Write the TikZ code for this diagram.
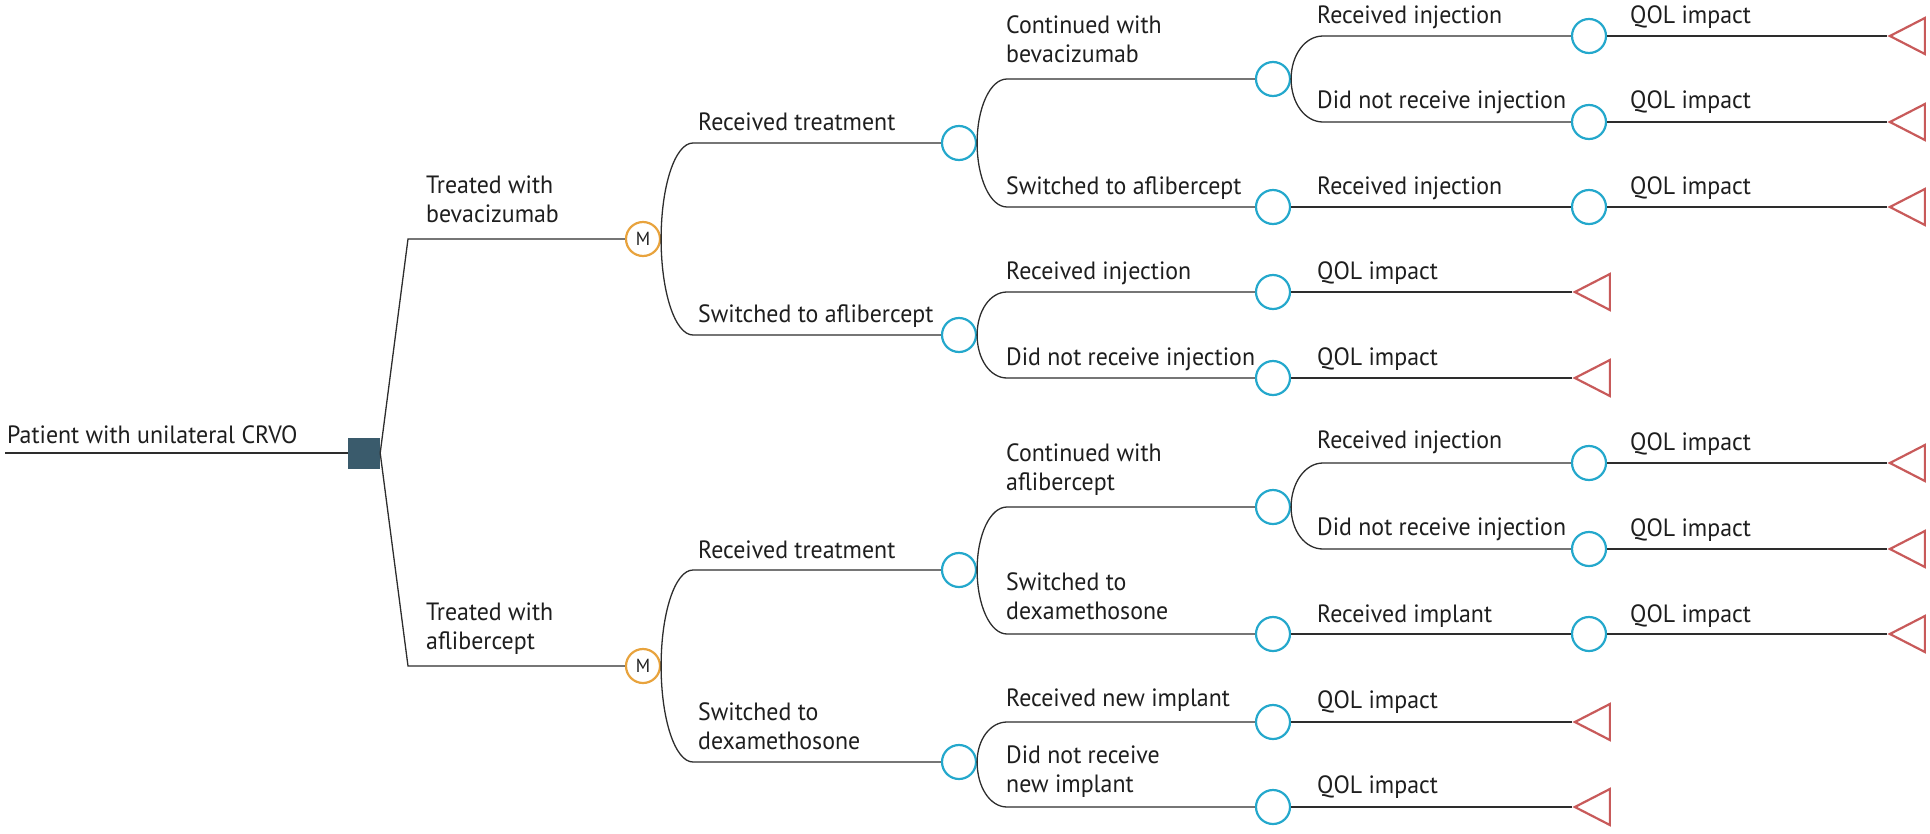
\documentclass[tikz,border=0pt]{standalone}
\usepackage{fontspec}
\setmainfont{PT Sans}[FakeStretch=0.955]
\usetikzlibrary{shapes.geometric}
\definecolor{lnc}{RGB}{45,45,45}
\definecolor{slate}{RGB}{58,91,108}
\definecolor{orng}{RGB}{232,163,61}
\definecolor{cyn}{RGB}{36,168,204}
\definecolor{rd}{RGB}{200,90,90}
\definecolor{txt}{RGB}{30,30,30}
\begin{document}
\begin{tikzpicture}[x=1pt,y=-1pt,
  ln/.style={draw=lnc,line width=1.3pt},
  lbl/.style={anchor=base west,inner sep=0pt,text=txt,font=\fontsize{25}{29.5}\selectfont},
  lbltwo/.style={anchor=south west,inner sep=0pt,text depth=0pt,text=txt,align=left,font=\fontsize{25}{29.5}\selectfont},
  decision/.style={rectangle,fill=slate,minimum width=32pt,minimum height=31pt,inner sep=0pt},
  markov/.style={circle,draw=orng,line width=2.2pt,minimum size=34pt,inner sep=0pt,text=txt,font=\fontsize{19}{20}\selectfont},
  chance/.style={circle,draw=cyn,line width=2.2pt,minimum size=34pt,inner sep=0pt},
  term/.style={isosceles triangle,isosceles triangle stretches,shape border rotate=180,draw=rd,line width=2.2pt,minimum width=36pt,minimum height=35pt,inner sep=0pt,anchor=apex}]
\useasboundingbox (0,0) rectangle (1930,833);

% ---------- root ----------
\coordinate (start) at (5,453);
\node[decision] (root) at (364,453) {};
\node[lbl] (tRoot) at (7,443) {Patient with unilateral CRVO};
\draw[ln] (start) -- (root.west);

\coordinate (k1) at (408,239);
\coordinate (k2) at (408,666);
\node[markov] (M1) at (643,239) {M};
\node[markov] (M2) at (643,666) {M};
\draw[ln] (root.east) -- (k1) -- (M1.west);
\draw[ln] (root.east) -- (k2) -- (M2.west);
\node[lbltwo] (tM1) at (426,223) {Treated with\\bevacizumab};
\node[lbltwo] (tM2) at (426,650) {Treated with\\aflibercept};

% ---------- top (bevacizumab) ----------
\node[chance] (C1) at (959,143) {};
\node[chance] (C2) at (959,335) {};
\coordinate (a1) at (693,143);
\coordinate (a2) at (693,335);
\draw[ln] (M1.east) .. controls +(0,-53) and +(-18,0) .. (a1) -- (C1.west);
\draw[ln] (M1.east) .. controls +(0,53) and +(-18,0) .. (a2) -- (C2.west);
\node[lbl] at (698,130) {Received treatment};
\node[lbl] at (698,322) {Switched to aflibercept};

\node[chance] (C3) at (1273,79) {};
\node[chance] (C4) at (1273,207) {};
\coordinate (b1) at (1007,79);
\coordinate (b2) at (1007,207);
\draw[ln] (C1.east) .. controls +(0,-35) and +(-17,0) .. (b1) -- (C3.west);
\draw[ln] (C1.east) .. controls +(0,35) and +(-17,0) .. (b2) -- (C4.west);
\node[lbltwo] at (1006,63) {Continued with\\bevacizumab};
\node[lbl] at (1006,194) {Switched to aflibercept};

\node[chance] (C5) at (1589,36) {};
\node[chance] (C6) at (1589,122) {};
\node[chance] (C7) at (1589,207) {};
\coordinate (c1) at (1323,36);
\coordinate (c2) at (1323,122);
\draw[ln] (C3.east) .. controls +(0,-24) and +(-18,0) .. (c1) -- (C5.west);
\draw[ln] (C3.east) .. controls +(0,24) and +(-18,0) .. (c2) -- (C6.west);
\draw[ln] (C4.east) -- (C7.west);
\node[lbl] at (1317,23) {Received injection};
\node[lbl] at (1317,108) {Did not receive injection};
\node[lbl] at (1317,194) {Received injection};

\node[term] (T1) at (1887,36) {};
\node[term] (T2) at (1887,122) {};
\node[term] (T3) at (1887,207) {};
\draw[ln] (C5.east) -- (T1.apex);
\draw[ln] (C6.east) -- (T2.apex);
\draw[ln] (C7.east) -- (T3.apex);
\node[lbl] at (1630,23) {QOL impact};
\node[lbl] at (1630,108) {QOL impact};
\node[lbl] at (1630,194) {QOL impact};

\node[chance] (C8) at (1273,292) {};
\node[chance] (C9) at (1273,378) {};
\coordinate (d1) at (1007,292);
\coordinate (d2) at (1007,378);
\draw[ln] (C2.east) .. controls +(0,-24) and +(-17,0) .. (d1) -- (C8.west);
\draw[ln] (C2.east) .. controls +(0,24) and +(-17,0) .. (d2) -- (C9.west);
\node[lbl] at (1006,279) {Received injection};
\node[lbl] at (1006,365) {Did not receive injection};
\node[term] (T4) at (1572,292) {};
\node[term] (T5) at (1572,378) {};
\draw[ln] (C8.east) -- (T4.apex);
\draw[ln] (C9.east) -- (T5.apex);
\node[lbl] at (1317,279) {QOL impact};
\node[lbl] at (1317,365) {QOL impact};

% ---------- bottom (aflibercept) ----------
\node[chance] (D1) at (959,570) {};
\node[chance] (D2) at (959,762) {};
\coordinate (e1) at (693,570);
\coordinate (e2) at (693,762);
\draw[ln] (M2.east) .. controls +(0,-53) and +(-18,0) .. (e1) -- (D1.west);
\draw[ln] (M2.east) .. controls +(0,53) and +(-18,0) .. (e2) -- (D2.west);
\node[lbl] at (698,558) {Received treatment};
\node[lbltwo] at (698,750) {Switched to\\dexamethosone};

\node[chance] (D3) at (1273,507) {};
\node[chance] (D4) at (1273,634) {};
\coordinate (f1) at (1007,507);
\coordinate (f2) at (1007,634);
\draw[ln] (D1.east) .. controls +(0,-35) and +(-17,0) .. (f1) -- (D3.west);
\draw[ln] (D1.east) .. controls +(0,35) and +(-17,0) .. (f2) -- (D4.west);
\node[lbltwo] at (1006,491) {Continued with\\aflibercept};
\node[lbltwo] at (1006,620) {Switched to\\dexamethosone};

\node[chance] (D5) at (1589,463) {};
\node[chance] (D6) at (1589,549) {};
\node[chance] (D7) at (1589,634) {};
\coordinate (g1) at (1323,463);
\coordinate (g2) at (1323,549);
\draw[ln] (D3.east) .. controls +(0,-24) and +(-18,0) .. (g1) -- (D5.west);
\draw[ln] (D3.east) .. controls +(0,24) and +(-18,0) .. (g2) -- (D6.west);
\draw[ln] (D4.east) -- (D7.west);
\node[lbl] at (1317,448) {Received injection};
\node[lbl] at (1317,535) {Did not receive injection};
\node[lbl] at (1317,622) {Received implant};

\node[term] (T6) at (1887,463) {};
\node[term] (T7) at (1887,549) {};
\node[term] (T8) at (1887,634) {};
\draw[ln] (D5.east) -- (T6.apex);
\draw[ln] (D6.east) -- (T7.apex);
\draw[ln] (D7.east) -- (T8.apex);
\node[lbl] at (1630,450) {QOL impact};
\node[lbl] at (1630,536) {QOL impact};
\node[lbl] at (1630,622) {QOL impact};

\node[chance] (D8) at (1273,722) {};
\node[chance] (D9) at (1273,807) {};
\coordinate (h1) at (1007,722);
\coordinate (h2) at (1007,807);
\draw[ln] (D2.east) .. controls +(0,-22) and +(-17,0) .. (h1) -- (D8.west);
\draw[ln] (D2.east) .. controls +(0,25) and +(-17,0) .. (h2) -- (D9.west);
\node[lbl] at (1006,706) {Received new implant};
\node[lbltwo] at (1006,793) {Did not receive\\new implant};
\node[term] (T9) at (1572,722) {};
\node[term] (T10) at (1572,807) {};
\draw[ln] (D8.east) -- (T9.apex);
\draw[ln] (D9.east) -- (T10.apex);
\node[lbl] at (1317,708) {QOL impact};
\node[lbl] at (1317,793) {QOL impact};
\end{tikzpicture}
\end{document}
